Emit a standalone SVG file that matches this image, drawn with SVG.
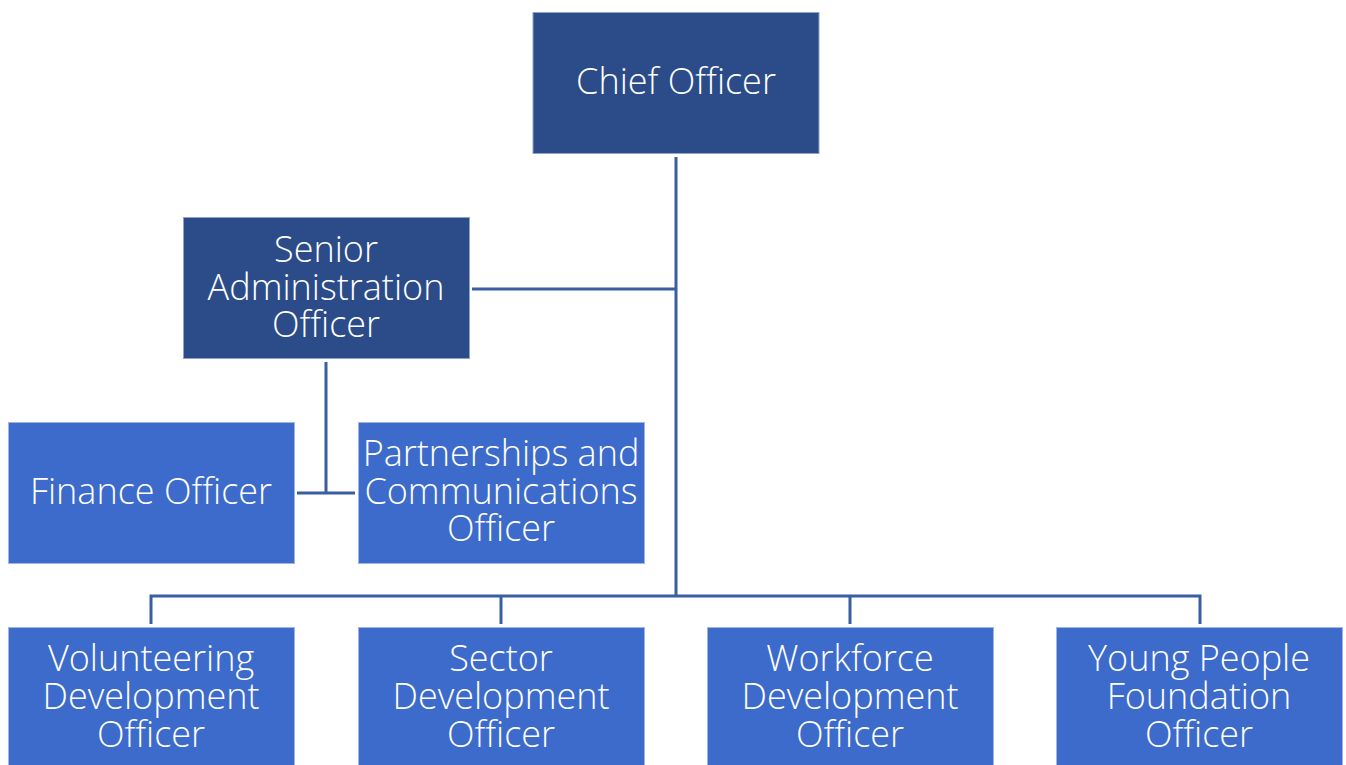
<svg xmlns="http://www.w3.org/2000/svg" width="1346" height="765" viewBox="0 0 1346 765">
  <style>
    .dark { fill: #2C4C89; stroke: #8FA3CC; stroke-width: 1; }
    .mid { fill: #3D6BCB; stroke: #9FB5E3; stroke-width: 1; }
    .lbl { font-family: "Open Sans", Lato, "Liberation Sans", sans-serif; font-size: 36px; font-weight: 300; fill: #FFFFFF; text-anchor: middle; font-variant-ligatures: none; }
    .wire { fill: none; stroke: #3A5EA2; stroke-width: 3; }
  </style>
  <rect width="1346" height="765" fill="#FFFFFF"/>

  <!-- reporting lines -->
  <g id="connectors">
    <path class="wire" d="M676 157 V596"/>
    <path class="wire" d="M472 289 H676"/>
    <path class="wire" d="M326 362 V493"/>
    <path class="wire" d="M297 493 H355"/>
    <path class="wire" d="M151 624 V596 H1200 V624"/>
    <path class="wire" d="M501 596 V624"/>
    <path class="wire" d="M850 596 V624"/>
  </g>

  <g id="chief">
    <rect class="dark" x="533" y="12.5" width="286" height="141"/>
    <text class="lbl" x="676" y="94">Chief Officer</text>
  </g>

  <g id="senior-admin">
    <rect class="dark" x="183.5" y="217.5" width="286" height="141"/>
    <text class="lbl" x="326" y="262">Senior</text>
    <text class="lbl" x="326" y="300">Administration</text>
    <text class="lbl" x="326" y="337">Officer</text>
  </g>

  <g id="finance">
    <rect class="mid" x="8.5" y="422.5" width="286" height="141"/>
    <text class="lbl" x="151" y="504">Finance Officer</text>
  </g>

  <g id="partnerships">
    <rect class="mid" x="358.5" y="422.5" width="286" height="141"/>
    <text class="lbl" x="501" y="466">Partnerships and</text>
    <text class="lbl" x="501" y="504">Communications</text>
    <text class="lbl" x="501" y="541">Officer</text>
  </g>

  <g id="volunteering">
    <rect class="mid" x="8.5" y="627.5" width="286" height="141"/>
    <text class="lbl" x="151" y="671">Volunteering</text>
    <text class="lbl" x="151" y="709">Development</text>
    <text class="lbl" x="151" y="747">Officer</text>
  </g>

  <g id="sector">
    <rect class="mid" x="358.5" y="627.5" width="286" height="141"/>
    <text class="lbl" x="501" y="671">Sector</text>
    <text class="lbl" x="501" y="709">Development</text>
    <text class="lbl" x="501" y="747">Officer</text>
  </g>

  <g id="workforce">
    <rect class="mid" x="707.5" y="627.5" width="286" height="141"/>
    <text class="lbl" x="850" y="671">Workforce</text>
    <text class="lbl" x="850" y="709">Development</text>
    <text class="lbl" x="850" y="747">Officer</text>
  </g>

  <g id="young-people">
    <rect class="mid" x="1056.5" y="627.5" width="286" height="141"/>
    <text class="lbl" x="1199" y="671">Young People</text>
    <text class="lbl" x="1199" y="709">Foundation</text>
    <text class="lbl" x="1199" y="747">Officer</text>
  </g>
</svg>
